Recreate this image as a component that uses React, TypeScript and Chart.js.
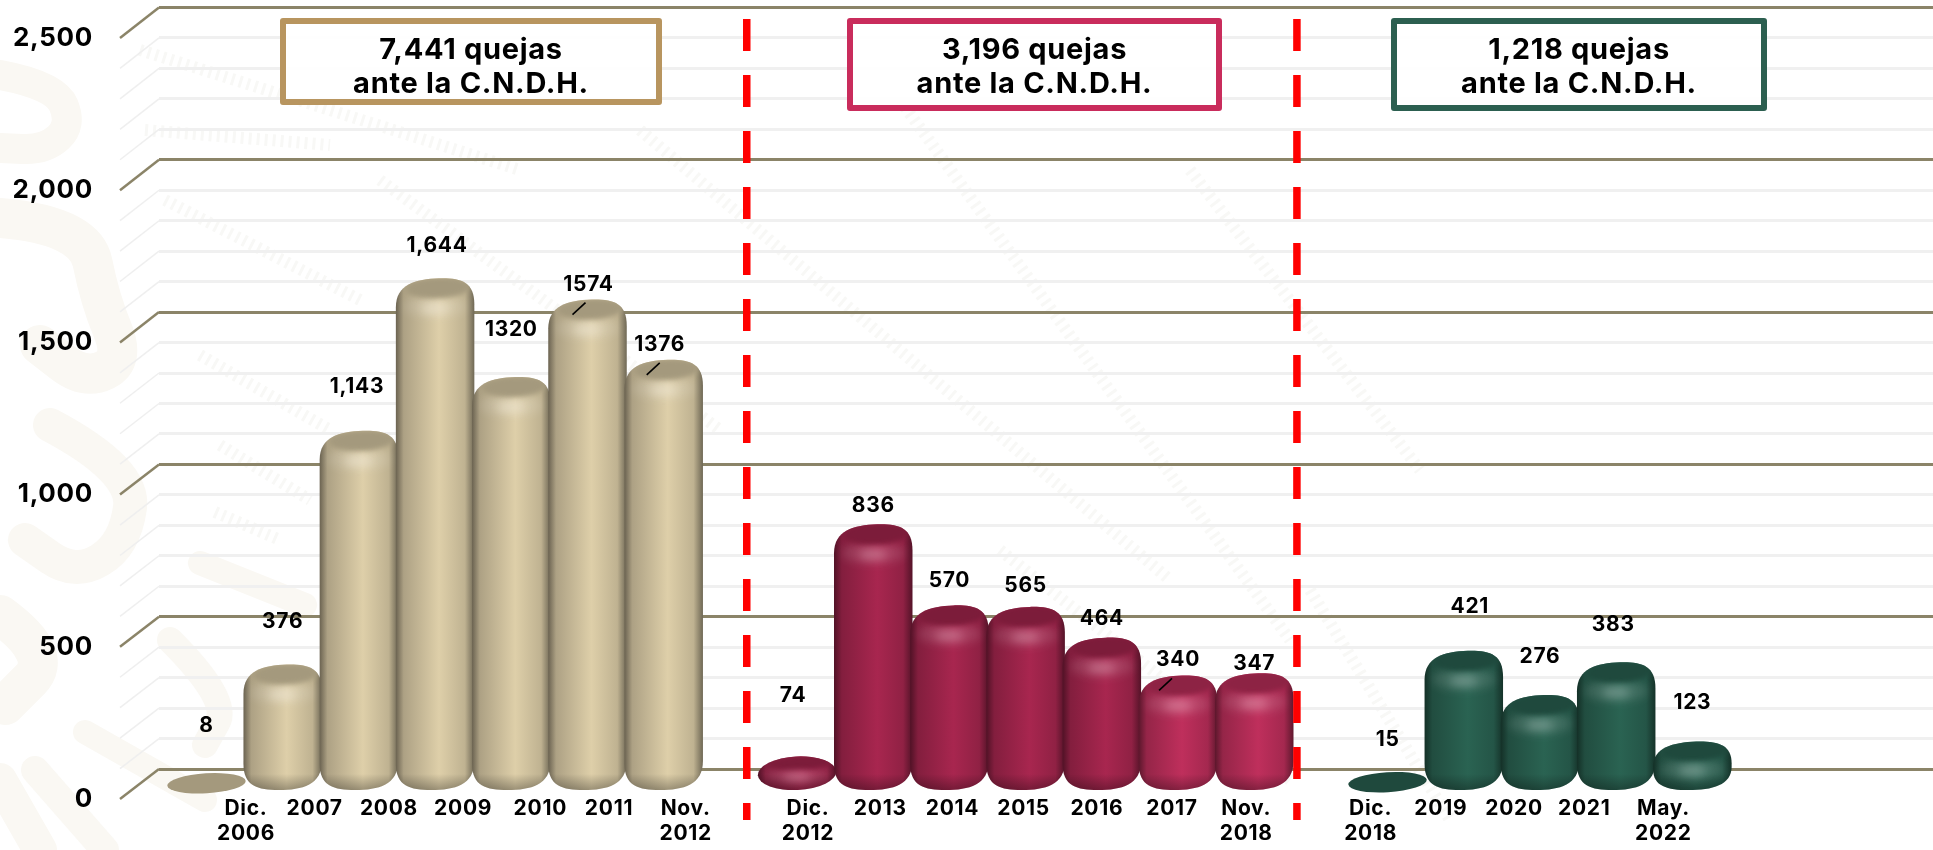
import React, { useEffect, useRef } from "react";
import { Chart, registerables } from "chart.js";

Chart.register(...registerables);

// ---------- data ----------
const labelsAdmin1 = [["Dic.", "2006"], "2007", "2008", "2009", "2010", "2011", ["Nov.", "2012"]];
const labelsAdmin2 = [["Dic.", "2012"], "2013", "2014", "2015", "2016", "2017", ["Nov.", "2018"]];
const labelsAdmin3 = [["Dic.", "2018"], "2019", "2020", "2021", ["May.", "2022"]];

const valuesAdmin1 = [8, 376, 1143, 1644, 1320, 1574, 1376];
const valuesAdmin2 = [74, 836, 570, 565, 464, 340, 347];
const valuesAdmin3 = [15, 421, 276, 383, 123];

const textAdmin1 = ["8", "376", "1,143", "1,644", "1320", "1574", "1376"];
const textAdmin2 = ["74", "836", "570", "565", "464", "340", "347"];
const textAdmin3 = ["15", "421", "276", "383", "123"];

const totals = ["7,441 quejas", "3,196 quejas", "1,218 quejas"];
const totalsSubtitle = "ante la C.N.D.H.";

const majorTicks = [0, 500, 1000, 1500, 2000, 2500];
const wallTicks = [
  0, 100, 200, 300, 400, 500, 600, 700, 800, 900, 1000, 1100, 1200, 1300, 1400, 1500, 1600, 1700, 1800, 1900, 2000,
  2100, 2200, 2300, 2400, 2500,
];

// ---------- layout (not data) ----------
const W = 1933;
const H = 850;
const AREA_LEFT = 159;
const AREA_TOP = 7;
const AREA_BOTTOM = 799;
const SLOT_PX = 76.2;
const SLOT0_PX = 206.5;
const GROUP_GAP = 0.75;
const PX_PER_UNIT_BACK = 0.3046;
const PX_PER_UNIT_FRONT = 0.3044;
const BACK_ZERO = 769;
const BAR_ZERO = 779;
const BAR_FOOT = 790;

const labelLift = [51, 43, 44, 33, 47, 15, 15, 61, 19, 25, 21, 19, 16, 10, 35, 44, 38, 38, 39];
const labelDrift = [0, 0, -2, 2, 0, 1, -4, -4, 0, 0, 0, 0, 0, 0, 0, 6, 0, -3, 0];
const xLabelNudge = [39.5, 32, 30, 28, 29, 21.5, 22, 11, 7, 3, -2, -5, -6, -8, -17, -23, -26, -32, -29];
const leaderDx: Record<string, number> = { "1574": -15, "1376": -17, "340": -19 };

const groups = [valuesAdmin1, valuesAdmin2, valuesAdmin3];
const slots: number[][] = [];
{
  let n = 0;
  groups.forEach((g, gi) => {
    slots.push(g.map(() => n++ + gi * GROUP_GAP));
  });
}
const allSlots = slots.flat();
const allXLabels = [...labelsAdmin1, ...labelsAdmin2, ...labelsAdmin3];
const allTexts = [...textAdmin1, ...textAdmin2, ...textAdmin3];

const boxes = [
  { x: 283, y: 21, w: 376, h: 81, color: "#b8955f", lines: [totals[0], totalsSubtitle] },
  { x: 850, y: 21, w: 369, h: 87, color: "#c92c5c", lines: [totals[1], totalsSubtitle] },
  { x: 1394, y: 21, w: 370, h: 87, color: "#2c5f50", lines: [totals[2], totalsSubtitle] },
];
const dividerSlots = [7.09, 14.31];

const TEXT_FONT = '"Inter", "Liberation Sans", sans-serif';

function mix(hex: string, target: number, t: number) {
  const n = parseInt(hex.slice(1), 16);
  const c = [(n >> 16) & 255, (n >> 8) & 255, n & 255].map((v) => Math.round(v + (target - v) * t));
  return `rgb(${c[0]},${c[1]},${c[2]})`;
}

function bodyPath(ctx: CanvasRenderingContext2D, x0: number, x1: number, t: number, b: number) {
  const w = x1 - x0;
  const h = b - t;
  const ryT = Math.min(26, h * 0.45);
  const ryB = Math.min(26, h * 0.42);
  ctx.beginPath();
  ctx.moveTo(x0, t + ryT + 3);
  ctx.bezierCurveTo(x0, t + 6, x0 + w * 0.25, t + 1, x0 + w * 0.55, t);
  ctx.bezierCurveTo(x0 + w * 0.82, t - 0.5, x1, t + 3, x1, t + ryT);
  ctx.lineTo(x1, b - ryB - 3);
  ctx.bezierCurveTo(x1, b - 5, x1 - w * 0.25, b, x0 + w * 0.45, b);
  ctx.bezierCurveTo(x0 + w * 0.18, b, x0, b - 4, x0, b - ryB);
  ctx.closePath();
}

function drawBar(ctx: CanvasRenderingContext2D, x: number, t: number, b: number, width: number, color: string) {
  const x0 = x - width / 2;
  const x1 = x + width / 2;
  const h = b - t;
  const cap = mix(color, 0, 0.26);

  if (h < 20) {
    ctx.save();
    ctx.beginPath();
    ctx.ellipse(x, (t + b) / 2, width / 2, 10, -0.06, 0, Math.PI * 2);
    ctx.fillStyle = cap;
    ctx.fill();
    ctx.restore();
    return;
  }

  ctx.save();
  if (h < 40) {
    ctx.beginPath();
    ctx.ellipse(x, (t + b) / 2, width / 2, h / 2, -0.05, 0, Math.PI * 2);
  } else {
    bodyPath(ctx, x0, x1, t, b);
  }
  const g = ctx.createLinearGradient(x0, 0, x1, 0);
  g.addColorStop(0, mix(color, 0, 0.52));
  g.addColorStop(0.1, mix(color, 0, 0.22));
  g.addColorStop(0.55, color);
  g.addColorStop(0.88, mix(color, 0, 0.14));
  g.addColorStop(1, mix(color, 0, 0.5));
  ctx.fillStyle = g;
  ctx.fill();
  ctx.clip();

  const foot = ctx.createLinearGradient(0, b - 16, 0, b);
  foot.addColorStop(0, "rgba(0,0,0,0)");
  foot.addColorStop(1, "rgba(0,0,0,0.3)");
  ctx.fillStyle = foot;
  ctx.fillRect(x0, b - 16, width, 16);

  const capRy = Math.min(11, h * 0.22);
  ctx.filter = "blur(5px)";
  ctx.fillStyle = "rgba(255,255,255,0.12)";
  ctx.beginPath();
  ctx.ellipse(x, t + capRy * 2.6, width * 0.4, capRy, 0, 0, Math.PI * 2);
  ctx.fill();
  ctx.filter = "blur(2.5px)";
  ctx.fillStyle = cap;
  ctx.beginPath();
  ctx.ellipse(x + 3, t + capRy * 0.85, width * 0.42, capRy, -0.05, 0, Math.PI * 2);
  ctx.fill();
  ctx.filter = "blur(4px)";
  ctx.fillStyle = mix(color, 255, 0.45);
  ctx.globalAlpha = 0.6;
  ctx.beginPath();
  ctx.ellipse(x, t + capRy * 2.75, width * 0.18, Math.min(4.5, capRy * 0.45), 0, 0, Math.PI * 2);
  ctx.fill();
  ctx.restore();
}

const watermarkBands: { w: number; pts: number[][] }[] = [
  { w: 30, pts: [[0, 75], [55, 85], [72, 125], [45, 150], [0, 148]] },
  { w: 40, pts: [[0, 218], [85, 225], [100, 300], [125, 360], [85, 380], [40, 345]] },
  { w: 34, pts: [[50, 425], [135, 470], [125, 545], [75, 575], [25, 540]] },
  { w: 40, pts: [[0, 615], [55, 655], [5, 705]] },
  { w: 28, pts: [[35, 770], [105, 850]] },
  { w: 24, pts: [[85, 732], [205, 800]] },
  { w: 34, pts: [[0, 780], [40, 850]] },
  { w: 26, pts: [[170, 640], [230, 700], [205, 745]] },
  { w: 24, pts: [[200, 563], [305, 605]] },
];
const scratchBands: number[][] = [
  [215, 512, 280, 540],
  [220, 445, 310, 500],
  [200, 355, 330, 430],
  [165, 200, 360, 300],
  [145, 130, 330, 145],
  [140, 50, 520, 170],
  [380, 180, 720, 430],
  [640, 130, 1170, 580],
  [900, 100, 1290, 640],
  [1190, 170, 1420, 470],
  [1000, 550, 1290, 780],
  [1310, 590, 1450, 820],
];

const chartDecor = {
  id: "chartDecor",
  beforeDraw(chart: any) {
    const { ctx } = chart;
    ctx.letterSpacing = "0.7px";
    ctx.save();
    ctx.fillStyle = "#ffffff";
    ctx.fillRect(0, 0, W, H);
    ctx.lineCap = "round";
    ctx.lineJoin = "round";
    ctx.strokeStyle = "#faf8f3";
    watermarkBands.forEach((band) => {
      const pts = band.pts;
      ctx.lineWidth = band.w;
      ctx.beginPath();
      ctx.moveTo(pts[0][0], pts[0][1]);
      for (let i = 1; i < pts.length - 1; i++) {
        const mx = (pts[i][0] + pts[i + 1][0]) / 2;
        const my = (pts[i][1] + pts[i + 1][1]) / 2;
        ctx.quadraticCurveTo(pts[i][0], pts[i][1], mx, my);
      }
      const last = pts[pts.length - 1];
      ctx.lineTo(last[0], last[1]);
      ctx.stroke();
    });
    ctx.lineCap = "butt";
    ctx.strokeStyle = "#f8f8f6";
    ctx.lineWidth = 12;
    ctx.setLineDash([3, 5]);
    scratchBands.forEach(([a, b, c, d]) => {
      ctx.beginPath();
      ctx.moveTo(a, b);
      ctx.lineTo(c, d);
      ctx.stroke();
    });
    ctx.restore();
  },
  beforeDatasetsDraw(chart: any) {
    const { ctx, scales } = chart;
    const front = scales.yFront;
    const back = scales.yBack;
    ctx.save();
    back.ticks.forEach((t: any) => {
      const major = t.value % 500 === 0;
      ctx.strokeStyle = major ? "#8b8468" : "#efefef";
      ctx.lineWidth = major ? 2.5 : 1.5;
      ctx.beginPath();
      ctx.moveTo(AREA_LEFT - 39, front.getPixelForValue(t.value));
      ctx.lineTo(AREA_LEFT, back.getPixelForValue(t.value));
      ctx.stroke();
    });
    ctx.restore();
  },
  beforeDatasetDraw(chart: any, args: any) {
    const { ctx } = chart;
    const ds = chart.data.datasets[args.index];
    args.meta.data.forEach((el: any, i: number) => {
      const p = el.getProps(["x", "y", "base", "width"], true);
      const col = Array.isArray(ds.backgroundColor) ? ds.backgroundColor[i] : ds.backgroundColor;
      drawBar(ctx, p.x, p.y, p.base, p.width, col);
    });
    return false;
  },
  afterDatasetsDraw(chart: any) {
    const { ctx, scales } = chart;
    ctx.save();

    ctx.strokeStyle = "#ff0000";
    ctx.lineWidth = 7.5;
    ctx.setLineDash([32, 24]);
    dividerSlots.forEach((s) => {
      const x = scales.x.getPixelForValue(s);
      ctx.beginPath();
      ctx.moveTo(x, 19);
      ctx.lineTo(x, 820);
      ctx.stroke();
    });
    ctx.setLineDash([]);

    ctx.fillStyle = "#000";
    ctx.textAlign = "center";
    ctx.textBaseline = "middle";
    ctx.font = `700 21px ${TEXT_FONT}`;
    let k = 0;
    chart.data.datasets.forEach((_: any, di: number) => {
      chart.getDatasetMeta(di).data.forEach((el: any) => {
        const text = allTexts[k];
        ctx.fillText(text, el.x + labelDrift[k], el.y - labelLift[k]);
        if (leaderDx[text] !== undefined) {
          ctx.strokeStyle = "#000";
          ctx.lineWidth = 1.6;
          ctx.beginPath();
          ctx.moveTo(el.x + leaderDx[text], el.y + 15);
          ctx.lineTo(el.x + leaderDx[text] + 13, el.y + 3);
          ctx.stroke();
        }
        k++;
      });
    });

    boxes.forEach((b) => {
      ctx.fillStyle = "rgba(255,255,255,0.9)";
      ctx.fillRect(b.x, b.y, b.w, b.h);
      ctx.strokeStyle = b.color;
      ctx.lineWidth = 6;
      ctx.lineJoin = "round";
      ctx.strokeRect(b.x, b.y, b.w, b.h);
      ctx.fillStyle = "#000";
      ctx.font = `700 29px ${TEXT_FONT}`;
      const cx = b.x + b.w / 2;
      ctx.fillText(b.lines[0], cx, 50);
      ctx.fillText(b.lines[1], cx, 84);
    });
    ctx.restore();
  },
};

// Tick padding leaks into the plot area's inset; pin each axis box to the sizes we want.
const fixedWidth = (w: number) => (s: any) => {
  s.width = w;
  s.paddingTop = 0;
  s.paddingBottom = 0;
};

export default function App() {
  const ref = useRef<HTMLCanvasElement | null>(null);

  useEffect(() => {
    if (!ref.current) return;
    const xMin = (AREA_LEFT - SLOT0_PX) / SLOT_PX;
    const xMax = (W - SLOT0_PX) / SLOT_PX;
    const areaH = AREA_BOTTOM - AREA_TOP;
    const series = (name: string, vals: number[], gi: number, colors: string | string[]) => ({
      label: name,
      data: vals.map((v, i) => ({ x: slots[gi][i], y: v })),
      backgroundColor: colors,
      grouped: false,
      barPercentage: 1.03,
      categoryPercentage: 1,
      base: (BAR_ZERO - BAR_FOOT) / PX_PER_UNIT_BACK,
      xAxisID: "x",
      yAxisID: "y",
    });

    const chart = new Chart(ref.current, {
      type: "bar",
      data: {
        datasets: [
          series("Dic. 2006 – Nov. 2012", valuesAdmin1, 0, "#decfa9"),
          series("Dic. 2012 – Nov. 2018", valuesAdmin2, 1, [
            "#a8264f", "#a8264f", "#a8264f", "#a8264f", "#a8264f", "#bf2f5c", "#bf2f5c",
          ]),
          series("Dic. 2018 – May. 2022", valuesAdmin3, 2, "#2a6352"),
        ],
      },
      plugins: [chartDecor],
      options: {
        responsive: false,
        animation: false,
        layout: { autoPadding: false, padding: { top: AREA_TOP, left: 0, right: 0, bottom: 0 } },
        plugins: { legend: { display: false }, tooltip: { enabled: false }, title: { display: false } },
        scales: {
          x: {
            type: "linear",
            display: false,
            offset: false,
            min: xMin,
            max: xMax,
          },
          xTicks: {
            type: "linear",
            position: "bottom",
            offset: false,
            min: xMin,
            max: xMax,
            grid: { display: false },
            border: { display: false },
            afterBuildTicks: (s: any) => {
              s.ticks = allSlots.map((v, i) => ({ value: v + xLabelNudge[i] / SLOT_PX }));
            },
            afterFit: (s: any) => {
              s.height = H - AREA_BOTTOM;
              s.paddingLeft = 0;
              s.paddingRight = 0;
            },
            ticks: {
              autoSkip: false,
              maxRotation: 0,
              minRotation: 0,
              padding: -11,
              color: "#000",
              font: { family: TEXT_FONT, size: 21, weight: "700", lineHeight: 1.2 },
              callback: (_: any, i: number) => allXLabels[i],
            },
          },
          yFront: {
            type: "linear",
            position: "left",
            min: 0,
            max: areaH / PX_PER_UNIT_FRONT,
            grid: { display: false, drawTicks: false },
            border: { display: false },
            afterFit: fixedWidth(AREA_LEFT),
            afterBuildTicks: (s: any) => {
              s.ticks = majorTicks.map((value) => ({ value }));
            },
            ticks: {
              autoSkip: false,
              padding: 66,
              color: "#000",
              font: { family: TEXT_FONT, size: 26, weight: "700" },
              callback: (v: any) => Number(v).toLocaleString("en-US"),
            },
          },
          yBack: {
            type: "linear",
            position: "left",
            min: (BACK_ZERO - AREA_BOTTOM) / PX_PER_UNIT_BACK,
            max: (BACK_ZERO - AREA_TOP) / PX_PER_UNIT_BACK,
            border: { display: false },
            afterFit: fixedWidth(0),
            afterBuildTicks: (s: any) => {
              s.ticks = wallTicks.map((value) => ({ value }));
            },
            ticks: { display: false, autoSkip: false },
            grid: {
              drawTicks: false,
              color: (c: any) => (c.tick.value % 500 === 0 ? "#8b8468" : "#f0f0f0"),
              lineWidth: 3,
            },
          },
          y: {
            type: "linear",
            position: "left",
            min: (BAR_ZERO - AREA_BOTTOM) / PX_PER_UNIT_BACK,
            max: (BAR_ZERO - AREA_TOP) / PX_PER_UNIT_BACK,
            border: { display: false },
            afterFit: fixedWidth(0),
            grid: { display: false, drawTicks: false },
            ticks: { display: false },
          },
        },
      },
    } as any);
    return () => chart.destroy();
  }, []);

  return (
    <div style={{ position: "absolute", left: 0, top: 0, width: W, height: H, overflow: "hidden", background: "#fff" }}>
      <canvas ref={ref} width={W} height={H} style={{ display: "block", width: W, height: H }} />
    </div>
  );
}
